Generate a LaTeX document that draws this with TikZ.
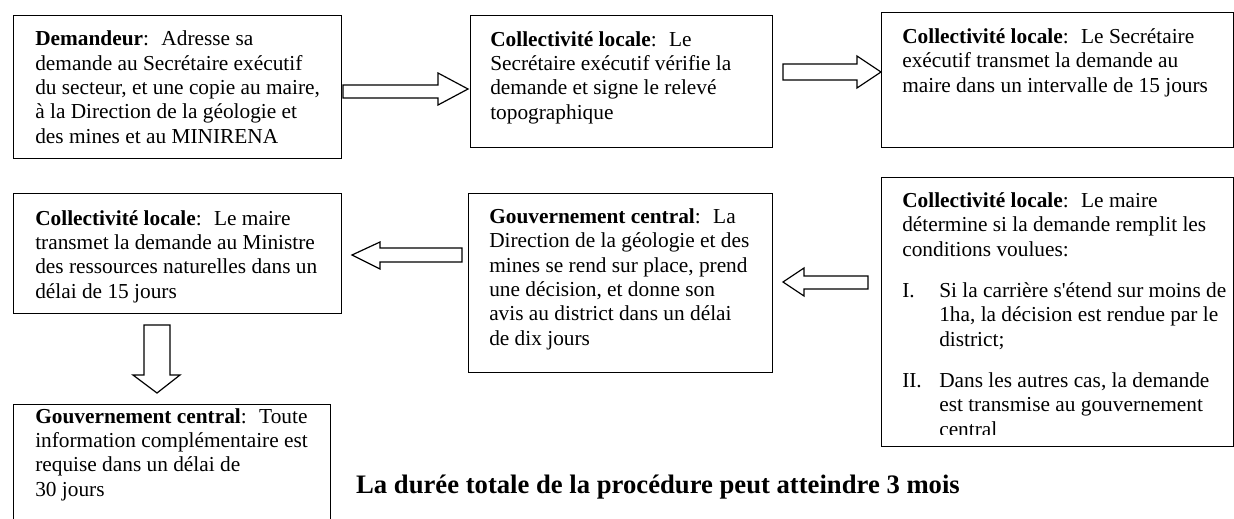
\documentclass[tikz,border=0pt]{standalone}
\usepackage{fontspec}
\setmainfont{Liberation Serif}
\begin{document}
\begin{tikzpicture}[x=0.75pt,y=-0.75pt,
  box/.style={draw, line width=1.1pt, inner sep=0pt, anchor=north west},
  txt/.style={anchor=base west, inner sep=0pt, align=left, font=\fontsize{16}{18.2}\selectfont},
  blockarrow/.style={draw, line width=0.9pt, fill=white, line join=miter}]
\clip (0,0) rectangle (1234,518);
\fill[white] (0,0) rectangle (1234,518);
% boxes
\node[box, minimum width={328*0.75pt}, minimum height={143*0.75pt}] (b1) at (13,15) {};
\node[box, minimum width={302*0.75pt}, minimum height={132*0.75pt}] (b2) at (470,15) {};
\node[box, minimum width={352*0.75pt}, minimum height={135*0.75pt}] (b3) at (881,12) {};
\node[box, minimum width={328*0.75pt}, minimum height={120*0.75pt}] (b4) at (13,193) {};
\node[box, minimum width={304*0.75pt}, minimum height={179*0.75pt}] (b5) at (468,193) {};
\node[box, minimum width={352*0.75pt}, minimum height={269*0.75pt}] (b6) at (881,177) {};
\node[box, minimum width={317*0.75pt}, minimum height={140*0.75pt}] (b7) at (13,404) {};
% texts (anchored at the baseline of their last line)
\node[txt] (t1) at (35,143) {\textbf{Demandeur}:~ Adresse sa\\demande au Secrétaire exécutif\\du secteur, et une copie au maire,\\à la Direction de la géologie et\\des mines et au MINIRENA};
\node[txt] (t2) at (490,119) {\textbf{Collectivité locale}:~ Le\\Secrétaire exécutif vérifie la\\demande et signe le relevé\\topographique};
\node[txt] (t3) at (902,92) {\textbf{Collectivité locale}:~ Le Secrétaire\\exécutif transmet la demande au\\maire dans un intervalle de 15 jours};
\node[txt] (t4) at (35,298) {\textbf{Collectivité locale}:~ Le maire\\transmet la demande au Ministre\\des ressources naturelles dans un\\délai de 15 jours};
\node[txt] (t5) at (489,345) {\textbf{Gouvernement central}:~ La\\Direction de la géologie et des\\mines se rend sur place, prend\\une décision, et donne son\\avis au district dans un délai\\de dix jours};
\node[txt] (t6) at (902,256) {\textbf{Collectivité locale}:~ Le maire\\détermine si la demande remplit les\\conditions voulues:};
\node[txt] (i1) at (902,297) {I.};
\node[txt] (t6a) at (939,346) {Si la carrière s\textquotesingle étend sur moins de\\1ha, la décision est rendue par le\\district;};
\node[txt] (i2) at (902,387) {II.};
\begin{scope}
\clip (881,177) rectangle (1233,434);
\node[txt] (t6b) at (939,436) {Dans les autres cas, la demande\\est transmise au gouvernement\\central};
\end{scope}
\node[txt] (t7) at (35,496) {\textbf{Gouvernement central}:~ Toute\\information complémentaire est\\requise dans un délai de\\30 jours};
\node[anchor=base, inner sep=0pt, font=\fontsize{20}{24}\selectfont\bfseries] (tot) at (658,493) {La durée totale de la procédure peut atteindre 3 mois};
% block arrows
\draw[blockarrow] (343,85) -- (438,85) -- (438,73) -- (468,89) -- (438,105) -- (438,98) -- (343,98) -- cycle;
\draw[blockarrow] (783,64) -- (857,64) -- (857,56) -- (881,72) -- (857,88) -- (857,80) -- (783,80) -- cycle;
\draw[blockarrow] (352,255) -- (380,242) -- (380,248) -- (462,248) -- (462,262) -- (380,262) -- (380,269) -- cycle;
\draw[blockarrow] (783,282) -- (804,268) -- (804,276) -- (868,276) -- (868,289) -- (804,289) -- (804,296) -- cycle;
\draw[blockarrow] (144,325) -- (170,325) -- (170,375) -- (180,375) -- (157,393) -- (133,375) -- (144,375) -- cycle;
\end{tikzpicture}
\end{document}
